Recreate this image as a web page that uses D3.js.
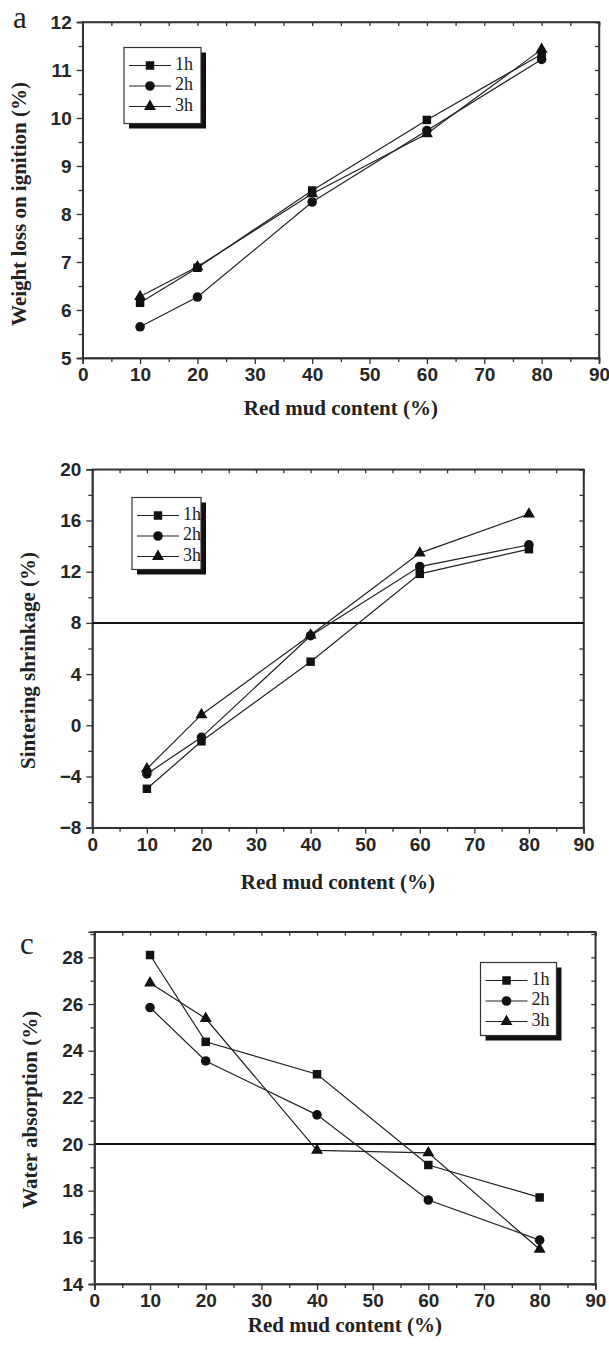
<!DOCTYPE html>
<html>
<head>
<meta charset="utf-8">
<script src="https://cdn.jsdelivr.net/npm/d3@7"></script>
<style>
  body { margin: 0; background: #fff; }
  svg { display: block; }
  .tick text { font-family: "Liberation Sans Narrow", "Liberation Sans", Arial, sans-serif; font-weight: bold; font-size: 19px; fill: #262626; }
  .title { font-family: "Liberation Serif", "Times New Roman", serif; font-weight: bold; font-size: 21px; fill: #222; }
  .legend text { font-family: "Liberation Serif", "Times New Roman", serif; font-size: 18px; fill: #222; }
</style>
</head>
<body>
<div id="chart"></div>
<script>
// red mud content on x, three firing times
var redMud = [10, 20, 40, 60, 80];
var times = ["1h", "2h", "3h"];
var xTicks = [0, 10, 20, 30, 40, 50, 60, 70, 80, 90];

var lossIgnition1h = [6.15, 6.88, 8.49, 9.96, 11.33];
var lossIgnition2h = [5.65, 6.27, 8.25, 9.74, 11.22];
var lossIgnition3h = [6.28, 6.90, 8.42, 9.67, 11.43];
var lossTicks = [5, 6, 7, 8, 9, 10, 11, 12];

var shrinkage1h = [-4.96, -1.25, 4.97, 11.83, 13.76];
var shrinkage2h = [-3.8, -0.94, 7.0, 12.4, 14.1];
var shrinkage3h = [-3.4, 0.83, 7.05, 13.45, 16.5];
var shrinkTicks = [-8, -4, 0, 4, 8, 12, 16, 20];
var shrinkRef = 8;

var absorption1h = [28.1, 24.38, 22.99, 19.1, 17.71];
var absorption2h = [25.85, 23.56, 21.25, 17.6, 15.88];
var absorption3h = [26.9, 25.38, 19.73, 19.62, 15.49];
var absorbTicks = [14, 16, 18, 20, 22, 24, 26, 28];
var absorbRef = 20;

var svg = d3.select("#chart").append("svg")
    .attr("width", 609)
    .attr("height", 1347);

var symbols = [d3.symbolSquare, d3.symbolCircle, d3.symbolTriangle];
var symSizes = [72, 72, 62];

function drawPanel(p) {
    var x = d3.scaleLinear().domain([0, 90]).range([p.left, p.right]);
    var y = d3.scaleLinear().domain(p.yDomain).range([p.bottom, p.top]);
    var g = svg.append("g");

    var minorX = d3.range(5, 90, 10);
    var yStep = p.yTicks[1] - p.yTicks[0];
    var minorY = p.yTicks.map(function(d) { return d + yStep / 2; }).filter(function(d) { return d < p.yDomain[1]; });

    // bottom + left axes (ticks outward)
    g.append("g").attr("transform", "translate(0," + p.bottom + ")")
        .call(d3.axisBottom(x).tickValues(xTicks).tickSize(6).tickPadding(4).tickFormat(d3.format("d")));
    g.append("g").attr("transform", "translate(0," + p.bottom + ")")
        .call(d3.axisBottom(x).tickValues(minorX).tickSize(4).tickFormat(""));
    g.append("g").attr("transform", "translate(" + p.left + ",0)")
        .call(d3.axisLeft(y).tickValues(p.yTicks).tickSize(6).tickPadding(5).tickFormat(d3.format("d")));
    g.append("g").attr("transform", "translate(" + p.left + ",0)")
        .call(d3.axisLeft(y).tickValues(minorY).tickSize(4).tickFormat(""));
    // top + right mirror ticks (inward)
    g.append("g").attr("transform", "translate(0," + p.top + ")")
        .call(d3.axisBottom(x).tickValues(xTicks.concat(minorX)).tickSize(4).tickFormat(""));
    g.append("g").attr("transform", "translate(" + p.right + ",0)")
        .call(d3.axisLeft(y).tickValues(p.yTicks.concat(minorY)).tickSize(4).tickFormat(""));

    g.selectAll(".domain").attr("stroke", "#333").attr("stroke-width", 1.5);
    g.selectAll(".tick line").attr("stroke", "#333").attr("stroke-width", 1.3);
    // frame
    g.append("rect").attr("x", p.left).attr("y", p.top)
        .attr("width", p.right - p.left).attr("height", p.bottom - p.top)
        .attr("fill", "none").attr("stroke", "#333").attr("stroke-width", 1.5);

    if (p.ref != null) {
        g.append("line")
            .attr("x1", p.left).attr("x2", p.right)
            .attr("y1", y(p.ref)).attr("y2", y(p.ref))
            .attr("stroke", "#111").attr("stroke-width", 2);
    }

    var line = d3.line().x(function(d, i) { return x(redMud[i]); }).y(function(d) { return y(d); });
    p.series.forEach(function(vals, k) {
        g.append("path").datum(vals).attr("d", line)
            .attr("fill", "none").attr("stroke", "#222").attr("stroke-width", 1.2);
    });
    p.series.forEach(function(vals, k) {
        g.selectAll(null).data(vals).enter().append("path")
            .attr("transform", function(d, i) { return "translate(" + x(redMud[i]) + "," + y(d) + ")"; })
            .attr("d", d3.symbol().type(symbols[k]).size(symSizes[k]))
            .attr("fill", "#111");
    });

    // axis titles
    g.append("text").attr("class", "title")
        .attr("x", (p.left + p.right) / 2).attr("y", p.xTitleY)
        .attr("text-anchor", "middle").attr("dominant-baseline", "middle")
        .text("Red mud content (%)");
    g.append("text").attr("class", "title")
        .attr("transform", "translate(" + p.yTitleX + "," + ((p.top + p.bottom) / 2 + p.yTitleShift) + ") rotate(-90)")
        .attr("text-anchor", "middle").attr("dominant-baseline", "middle")
        .text(p.yTitle);

    if (p.letter) {
        g.append("text").attr("x", p.letter[1]).attr("y", p.letter[2])
            .attr("text-anchor", "middle")
            .attr("font-family", "Liberation Serif, serif").attr("font-size", 31)
            .attr("fill", "#222").text(p.letter[0]);
    }

    // legend with drop shadow
    var L = p.legend;
    var leg = g.append("g").attr("class", "legend");
    leg.append("rect").attr("x", L.x + 5).attr("y", L.y + 5).attr("width", L.w).attr("height", L.h).attr("fill", "#111");
    leg.append("rect").attr("x", L.x).attr("y", L.y).attr("width", L.w).attr("height", L.h)
        .attr("fill", "#fff").attr("stroke", "#333").attr("stroke-width", 1.2);
    times.forEach(function(t, k) {
        var ly = L.y + 18 + k * 20.5;
        leg.append("line").attr("x1", L.x + 5).attr("x2", L.x + 47).attr("y1", ly).attr("y2", ly)
            .attr("stroke", "#222").attr("stroke-width", 1.2);
        leg.append("path").attr("transform", "translate(" + (L.x + 26) + "," + ly + ")")
            .attr("d", d3.symbol().type(symbols[k]).size(symSizes[k])).attr("fill", "#111");
        leg.append("text").attr("x", L.x + 51).attr("y", ly).attr("dominant-baseline", "middle").text(t);
    });
}

drawPanel({
    left: 82.7, right: 599, top: 22, bottom: 358,
    yDomain: [5, 12], yTicks: lossTicks,
    series: [lossIgnition1h, lossIgnition2h, lossIgnition3h],
    yTitle: "Weight loss on ignition (%)", yTitleX: 21, yTitleShift: 14,
    xTitleY: 410, letter: ["a", 20, 28],
    legend: { x: 124, y: 47.5, w: 77, h: 76 }
});

drawPanel({
    left: 92.3, right: 583.5, top: 469.3, bottom: 827.7,
    yDomain: [-8, 20], yTicks: shrinkTicks, ref: shrinkRef,
    series: [shrinkage1h, shrinkage2h, shrinkage3h],
    yTitle: "Sintering shrinkage (%)", yTitleX: 30, yTitleShift: 12,
    xTitleY: 884,
    legend: { x: 132, y: 497.5, w: 69, h: 72 }
});

drawPanel({
    left: 94.4, right: 595.3, top: 931.7, bottom: 1284,
    yDomain: [14, 29.1], yTicks: absorbTicks, ref: absorbRef,
    series: [absorption1h, absorption2h, absorption3h],
    yTitle: "Water absorption (%)", yTitleX: 32, yTitleShift: 2,
    xTitleY: 1327, letter: ["c", 27, 954],
    legend: { x: 480.5, y: 962.5, w: 76, h: 73 }
});
</script>
</body>
</html>
